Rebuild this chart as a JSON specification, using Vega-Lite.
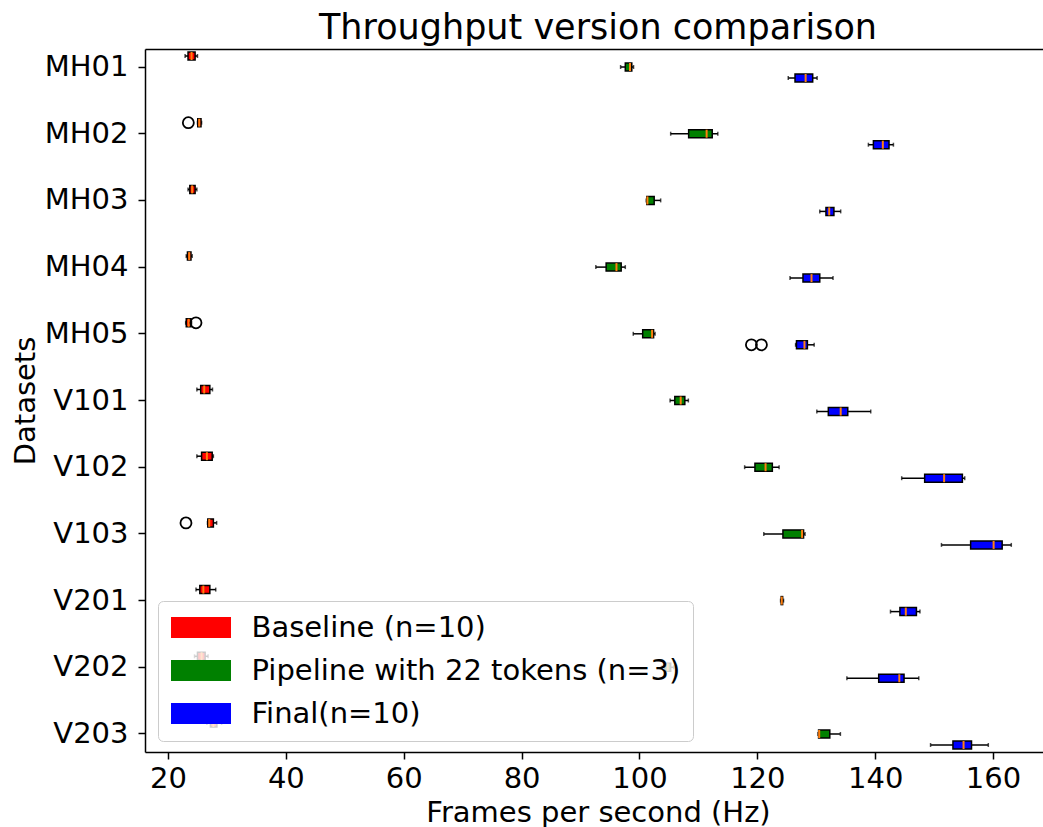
{
  "$schema": "https://vega.github.io/schema/vega-lite/v6.json",
  "width": 898,
  "height": 703,
  "autosize": {"type": "none"},
  "padding": {"left": 145, "top": 49, "right": 0, "bottom": 75},
  "background": "white",
  "title": {"text": "Throughput version comparison", "font": "DejaVu Sans", "fontSize": 35, "fontWeight": "normal", "color": "black", "anchor": "middle", "dx": 4, "baseline": "alphabetic", "offset": -25},
  "datasets": {
    "boxes": [
      {"dataset": "MH01", "version": "Baseline (n=10)", "min": 22.9, "q1": 23.4, "median": 24.0, "q3": 24.6, "max": 25.0},
      {"dataset": "MH02", "version": "Baseline (n=10)", "min": 25.0, "q1": 25.05, "median": 25.3, "q3": 25.6, "max": 25.7},
      {"dataset": "MH03", "version": "Baseline (n=10)", "min": 23.4, "q1": 23.7, "median": 24.1, "q3": 24.6, "max": 24.9},
      {"dataset": "MH04", "version": "Baseline (n=10)", "min": 23.1, "q1": 23.3, "median": 23.6, "q3": 23.9, "max": 24.1},
      {"dataset": "MH05", "version": "Baseline (n=10)", "min": 23.0, "q1": 23.1, "median": 23.5, "q3": 23.9, "max": 24.0},
      {"dataset": "V101", "version": "Baseline (n=10)", "min": 24.9, "q1": 25.55, "median": 26.15, "q3": 27.1, "max": 27.55},
      {"dataset": "V102", "version": "Baseline (n=10)", "min": 24.9, "q1": 25.7, "median": 26.6, "q3": 27.5, "max": 27.7},
      {"dataset": "V103", "version": "Baseline (n=10)", "min": 26.7, "q1": 26.75, "median": 27.0, "q3": 27.7, "max": 28.25},
      {"dataset": "V201", "version": "Baseline (n=10)", "min": 24.75, "q1": 25.4, "median": 26.0, "q3": 27.1, "max": 28.1},
      {"dataset": "V202", "version": "Baseline (n=10)", "min": 24.5, "q1": 25.0, "median": 25.7, "q3": 26.3, "max": 26.8},
      {"dataset": "V203", "version": "Baseline (n=10)", "min": 26.6, "q1": 27.2, "median": 27.7, "q3": 28.3, "max": 29.1},
      {"dataset": "MH01", "version": "Pipeline with 22 tokens (n=3)", "min": 96.8, "q1": 97.6, "median": 98.4, "q3": 98.7, "max": 99.0},
      {"dataset": "MH02", "version": "Pipeline with 22 tokens (n=3)", "min": 105.3, "q1": 108.35, "median": 111.4, "q3": 112.35, "max": 113.3},
      {"dataset": "MH03", "version": "Pipeline with 22 tokens (n=3)", "min": 101.15, "q1": 101.25, "median": 101.35, "q3": 102.5, "max": 103.6},
      {"dataset": "MH04", "version": "Pipeline with 22 tokens (n=3)", "min": 92.6, "q1": 94.35, "median": 96.1, "q3": 96.9, "max": 97.6},
      {"dataset": "MH05", "version": "Pipeline with 22 tokens (n=3)", "min": 98.95, "q1": 100.55, "median": 102.15, "q3": 102.4, "max": 102.65},
      {"dataset": "V101", "version": "Pipeline with 22 tokens (n=3)", "min": 105.2, "q1": 106.0, "median": 107.0, "q3": 107.7, "max": 108.3},
      {"dataset": "V102", "version": "Pipeline with 22 tokens (n=3)", "min": 117.85, "q1": 119.6, "median": 121.4, "q3": 122.55, "max": 123.7},
      {"dataset": "V103", "version": "Pipeline with 22 tokens (n=3)", "min": 121.1, "q1": 124.35, "median": 127.6, "q3": 127.85, "max": 128.1},
      {"dataset": "V201", "version": "Pipeline with 22 tokens (n=3)", "min": 123.95, "q1": 124.05, "median": 124.15, "q3": 124.3, "max": 124.45},
      {"dataset": "V202", "version": "Pipeline with 22 tokens (n=3)", "min": 103.8, "q1": 104.3, "median": 104.8, "q3": 105.3, "max": 105.8},
      {"dataset": "V203", "version": "Pipeline with 22 tokens (n=3)", "min": 130.3, "q1": 130.4, "median": 130.5, "q3": 132.3, "max": 134.1},
      {"dataset": "MH01", "version": "Final(n=10)", "min": 125.25, "q1": 126.4, "median": 128.2, "q3": 129.4, "max": 130.15},
      {"dataset": "MH02", "version": "Final(n=10)", "min": 138.85, "q1": 139.7, "median": 141.3, "q3": 142.35, "max": 143.1},
      {"dataset": "MH03", "version": "Final(n=10)", "min": 130.6, "q1": 131.65, "median": 132.2, "q3": 133.0, "max": 134.15},
      {"dataset": "MH04", "version": "Final(n=10)", "min": 125.55, "q1": 127.75, "median": 129.2, "q3": 130.6, "max": 132.85},
      {"dataset": "MH05", "version": "Final(n=10)", "min": 126.5, "q1": 126.65, "median": 128.0, "q3": 128.5, "max": 129.65},
      {"dataset": "V101", "version": "Final(n=10)", "min": 130.1, "q1": 132.05, "median": 134.15, "q3": 135.35, "max": 139.25},
      {"dataset": "V102", "version": "Final(n=10)", "min": 144.5, "q1": 148.4, "median": 151.7, "q3": 154.8, "max": 155.2},
      {"dataset": "V103", "version": "Final(n=10)", "min": 151.25, "q1": 156.2, "median": 160.1, "q3": 161.55, "max": 163.1},
      {"dataset": "V201", "version": "Final(n=10)", "min": 142.6, "q1": 144.2, "median": 145.2, "q3": 147.0, "max": 147.6},
      {"dataset": "V202", "version": "Final(n=10)", "min": 135.2, "q1": 140.6, "median": 144.1, "q3": 144.9, "max": 147.4},
      {"dataset": "V203", "version": "Final(n=10)", "min": 149.4, "q1": 153.2, "median": 155.0, "q3": 156.35, "max": 159.2}
    ],
    "fliers": [
      {"dataset": "MH02", "version": "Baseline (n=10)", "value": 23.45},
      {"dataset": "MH05", "version": "Baseline (n=10)", "value": 24.75},
      {"dataset": "V103", "version": "Baseline (n=10)", "value": 23.05},
      {"dataset": "MH05", "version": "Final(n=10)", "value": 119.0},
      {"dataset": "MH05", "version": "Final(n=10)", "value": 120.7}
    ]
  },
  "resolve": {"axis": {"x": "independent"}},
  "layer": [
    {
      "data": {"name": "boxes"},
      "mark": {"type": "rule", "color": "black", "strokeWidth": 1.5},
      "encoding": {
        "x": {"field": "min", "type": "quantitative", "scale": {"domain": [16.097, 168.48], "nice": false, "zero": false},
              "axis": {"orient": "bottom", "title": "Frames per second (Hz)", "values": [20, 40, 60, 80, 100, 120, 140, 160], "titleX": 453, "titlePadding": 5}},
        "x2": {"field": "max"},
        "y": {"field": "dataset", "type": "nominal", "sort": ["MH01","MH02","MH03","MH04","MH05","V101","V102","V103","V201","V202","V203"],
              "scale": {"type": "band", "domain": ["MH01","MH02","MH03","MH04","MH05","V101","V102","V103","V201","V202","V203"], "paddingInner": 0.46, "paddingOuter": 0},
              "axis": {"title": "Datasets", "labelPadding": 10}},
        "yOffset": {"field": "version", "type": "nominal", "scale": {"domain": ["Baseline (n=10)", "Pipeline with 22 tokens (n=3)", "Final(n=10)"], "paddingInner": 0.2727, "paddingOuter": 0.2727}}
      }
    },
    {
      "data": {"name": "boxes"},
      "mark": {"type": "tick", "color": "black", "size": 4, "thickness": 1.5},
      "encoding": {
        "x": {"field": "min", "type": "quantitative", "axis": {"orient": "top", "labels": false, "ticks": false, "title": null, "domain": true}},
        "y": {"field": "dataset", "type": "nominal", "axis": {"title": "Datasets", "labelPadding": 10}},
        "yOffset": {"field": "version", "type": "nominal"}
      }
    },
    {
      "data": {"name": "boxes"},
      "mark": {"type": "tick", "color": "black", "size": 4, "thickness": 1.5},
      "encoding": {
        "x": {"field": "max", "type": "quantitative", "axis": null},
        "y": {"field": "dataset", "type": "nominal", "axis": {"title": "Datasets", "labelPadding": 10}},
        "yOffset": {"field": "version", "type": "nominal"}
      }
    },
    {
      "data": {"name": "boxes"},
      "mark": {"type": "bar", "stroke": "black", "strokeWidth": 1.5, "opacity": 1},
      "encoding": {
        "x": {"field": "q1", "type": "quantitative", "axis": null},
        "x2": {"field": "q3"},
        "y": {"field": "dataset", "type": "nominal", "axis": {"title": "Datasets", "labelPadding": 10}},
        "yOffset": {"field": "version", "type": "nominal"},
        "color": {"field": "version", "type": "nominal", "scale": {"domain": ["Baseline (n=10)", "Pipeline with 22 tokens (n=3)", "Final(n=10)"], "range": ["#ff0000", "#008000", "#0000ff"]},
                  "legend": {"title": null}}
      }
    },
    {
      "data": {"name": "boxes"},
      "mark": {"type": "tick", "color": "#ff7f0e", "size": 8, "thickness": 2, "opacity": 1},
      "encoding": {
        "x": {"field": "median", "type": "quantitative", "axis": null},
        "y": {"field": "dataset", "type": "nominal", "axis": {"title": "Datasets", "labelPadding": 10}},
        "yOffset": {"field": "version", "type": "nominal"}
      }
    },
    {
      "data": {"name": "fliers"},
      "mark": {"type": "point", "shape": "circle", "filled": false, "color": "black", "size": 121, "strokeWidth": 1.8, "opacity": 1},
      "encoding": {
        "x": {"field": "value", "type": "quantitative", "axis": null},
        "y": {"field": "dataset", "type": "nominal", "axis": {"title": "Datasets", "labelPadding": 10}},
        "yOffset": {"field": "version", "type": "nominal"}
      }
    }
  ],
  "config": {
    "view": {"stroke": null},
    "font": "DejaVu Sans",
    "axis": {"labelFont": "DejaVu Sans", "titleFont": "DejaVu Sans", "labelFontSize": 29, "titleFontSize": 29, "titleFontWeight": "normal",
             "labelColor": "black", "titleColor": "black", "domainColor": "black", "tickColor": "black", "domainWidth": 1.5, "tickWidth": 1.5,
             "tickSize": 7, "labelPadding": 5, "grid": false, "labelOverlap": false},
    "legend": {"orient": "none", "legendX": 13, "legendY": 552, "symbolType": "M-2.857,-1H2.857V1H-2.857Z", "symbolSize": 441, "symbolOffset": 16.5, "symbolStrokeWidth": 0,
               "symbolOpacity": 1, "labelFont": "DejaVu Sans", "labelFontSize": 29, "labelColor": "black", "labelOffset": 36, "labelLimit": 700,
               "rowPadding": 13, "padding": 12, "fillColor": "rgba(255,255,255,0.8)", "strokeColor": "#cccccc", "cornerRadius": 5}
  }
}
